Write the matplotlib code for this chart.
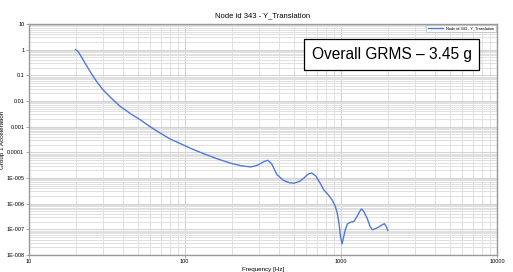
import matplotlib
matplotlib.use("Agg")
import matplotlib.pyplot as plt
from matplotlib.ticker import LogLocator, FixedLocator, NullFormatter

plt.rcParams['font.family'] = ['Liberation Sans', 'DejaVu Sans']

freq = [20, 20.7, 21.4, 23, 24.8, 27, 29.9, 34, 38.6, 45, 51.8, 60, 69.7, 80.7, 93.6,
        110, 132, 160, 195.7, 230, 263, 280, 297, 320, 340, 360, 390, 430, 470, 500,
        540, 580, 620, 650, 690, 740, 776, 830, 878, 920, 950, 975, 995, 1018, 1040,
        1069, 1100, 1150, 1208, 1270, 1320, 1353, 1400, 1472, 1530, 1585, 1650, 1747,
        1850, 1901, 1950, 1995]
accel = [1.0, 0.85, 0.64, 0.3, 0.14, 0.063, 0.0276, 0.0126, 0.0062, 0.0032, 0.00187,
         1.0e-3, 5.6e-4, 3.3e-4, 2.2e-4, 1.4e-4, 8.9e-5, 5.7e-5, 3.8e-5, 3.0e-5, 2.7e-5,
         2.9e-5, 3.3e-5, 4.3e-5, 4.9e-5, 3.6e-5, 1.34e-5, 8e-6, 6.5e-6, 6.3e-6, 7.2e-6,
         1.0e-5, 1.45e-5, 1.56e-5, 1.2e-5, 6e-6, 3.5e-6, 2.2e-6, 1.4e-6, 8e-7, 4e-7,
         1.5e-7, 5e-8, 2.7e-8, 5e-8, 1e-7, 1.6e-7, 1.9e-7, 2e-7, 3.2e-7, 5e-7, 6.2e-7,
         5e-7, 2.7e-7, 1.4e-7, 9.6e-8, 1.05e-7, 1.23e-7, 1.55e-7, 1.65e-7, 1.3e-7, 9e-8]

y_ticks = [10, 1, 0.1, 0.01, 0.001, 0.0001, 1e-5, 1e-6, 1e-7, 1e-8]
y_labels = ["10", "1", "0.1", "0.01", "0.001", "0.0001", "1E-005", "1E-006", "1E-007", "1E-008"]
x_ticks = [10, 100, 1000, 10000]
x_labels = ["10", "100", "1000", "10000"]

title = "Node id 343 - Y_Translation"
series_name = "Node id 343 - Y_Translation"
annotation = "Overall GRMS \u2013 3.45 g"

fig = plt.figure(figsize=(5.13, 2.72), dpi=100)
ax = fig.add_axes([0.0556, 0.0625, 0.9134, 0.8493])
ax.plot(freq, accel, color='#5078dc', lw=1.0, label=series_name)
ax.set_xscale('log')
ax.set_yscale('log')
ax.set_xlim(10, 10000)
ax.set_ylim(1e-8, 10)

ax.yaxis.set_major_locator(FixedLocator(y_ticks))
ax.set_yticklabels(y_labels)
ax.xaxis.set_major_locator(FixedLocator(x_ticks))
ax.set_xticklabels(x_labels)
ax.xaxis.set_minor_locator(LogLocator(base=10, subs=range(2, 10), numticks=20))
ax.yaxis.set_minor_locator(LogLocator(base=10, subs=range(2, 10), numticks=30))
ax.xaxis.set_minor_formatter(NullFormatter())
ax.yaxis.set_minor_formatter(NullFormatter())

ax.grid(True, which='major', color='#d4d4d4', lw=0.8)
ax.grid(True, which='minor', color='#e0e0e0', lw=0.7)
ax.set_axisbelow(True)
ax.tick_params(which='major', labelsize=4, length=2, width=0.5, color='#888888', pad=1)
ax.tick_params(which='minor', length=0)
for s in ax.spines.values():
    s.set_color('#999999')
    s.set_linewidth(1.0)

ax.set_title(title, fontsize=5.5, pad=5)
ax.set_xlabel("Frequency [Hz]", fontsize=4.5, labelpad=2)
ax.set_ylabel("Group 1 Acceleration", fontsize=4.5, labelpad=1)

leg = ax.legend(loc='upper right', fontsize=2.8, frameon=True, fancybox=False,
                handlelength=4, borderaxespad=0.3, borderpad=0.4)
leg.get_frame().set_edgecolor('#aaaaaa')
leg.get_frame().set_linewidth(0.5)

fig.text(0.6075, 0.8, annotation, fontsize=11.2, ha='left', va='center',
         bbox=dict(boxstyle='square,pad=0.5', fc='white', ec='black', lw=0.9))

fig.savefig("out.png", dpi=100)
